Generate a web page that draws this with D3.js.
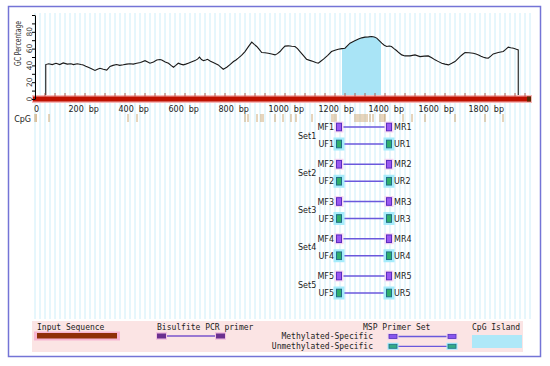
<!DOCTYPE html>
<html>
<head>
<meta charset="utf-8">
<script src="https://cdn.jsdelivr.net/npm/d3@7"></script>
<style>
  body { margin: 0; background: #fff; }
  svg { display: block; }
</style>
</head>
<body>
<div id="chart"></div>
<script>
// =========================
// Data
// =========================
const seqLength = 1984;

// GC percentage along the sequence (bp, %)
const gcPos = [43, 43, 55, 69, 84, 99, 113, 129, 144, 154, 169, 184, 193, 203, 213, 226, 240, 250, 260, 273, 287,
  300, 312, 326, 339, 353, 367, 380, 393, 407, 422, 440, 451, 460, 474, 487, 500, 507, 521, 534, 544, 554, 563,
  573, 583, 593, 603, 613, 625, 640, 650, 658, 666, 674, 683, 690, 702, 713, 723, 733, 743, 753, 760, 767, 780,
  794, 804, 813, 826, 840, 853, 867, 877, 887, 897, 907, 920, 933, 947, 960, 970, 980, 990, 1000, 1013, 1027,
  1040, 1050, 1060, 1073, 1086, 1099, 1113, 1123, 1133, 1143, 1154, 1171, 1186, 1200, 1213, 1227, 1240, 1250,
  1260, 1277, 1294, 1307, 1320, 1334, 1347, 1357, 1367, 1377, 1387, 1397, 1407, 1417, 1426, 1436, 1446, 1456,
  1467, 1480, 1500, 1520, 1540, 1557, 1573, 1587, 1600, 1614, 1627, 1640, 1654, 1667, 1680, 1690, 1700, 1710,
  1720, 1736, 1753, 1764, 1774, 1784, 1794, 1803, 1813, 1823, 1833, 1843, 1853, 1863, 1873, 1883, 1893, 1903,
  1914, 1923, 1933, 1933];
const gcVal = [0, 41, 42, 41, 42.5, 41, 43, 41.5, 42, 41, 42, 41, 40.5, 39, 37.7, 36, 34, 35.5, 36.6, 35.5, 34.5,
  38.8, 40, 41, 40, 40.7, 41.5, 42, 41.5, 42.6, 43.5, 45.6, 44, 42.6, 44, 46.4, 47, 46.4, 44, 42.6, 40, 37.8, 40,
  42.6, 41.5, 40.6, 41.5, 42.6, 44, 45.7, 47.5, 49.8, 47, 45.7, 46.5, 47.2, 45, 43.4, 42, 40.6, 38, 35.4, 36.5,
  37.8, 41, 44.6, 46.5, 48.6, 52, 56.5, 62, 67.7, 65, 62.5, 59, 55.3, 55, 54.5, 53.5, 52.5, 54, 56.5, 60, 63,
  63.3, 62.8, 62.5, 60, 56.5, 52, 47.4, 46, 44.6, 43.5, 42.6, 45, 47.4, 52, 56.5, 58, 59.3, 60, 60.5, 63.5, 66.5,
  69, 71.3, 72.8, 73.7, 74, 74.4, 73.8, 72.5, 69.5, 66.5, 64, 62.5, 63, 62.5, 60, 57.7, 55, 52.5, 51.3, 51.3,
  52.5, 50.5, 51, 51.3, 49, 46.6, 44.5, 42.6, 41.5, 40.6, 42.5, 44.6, 47.5, 50.5, 53, 55.3, 55, 54.5, 53.5, 52.5,
  51, 49.8, 49, 48.6, 51, 53.7, 54.5, 55.3, 56, 56.5, 59, 61.7, 61, 60.5, 59.5, 58.5, 0];

const cpgIsland = [1228, 1384];

const cpgSites = [0, 5, 56, 372, 408, 840, 852, 888, 904, 912, 960, 992, 1024, 1044, 1108, 1188, 1196, 1204,
  1280, 1288, 1296, 1304, 1312, 1320, 1328, 1340, 1352, 1380, 1388, 1396, 1400, 1472, 1508, 1560, 1680, 1800, 1872];

// MSP primer sets (start bp of each primer)
const primerSets = ["Set1", "Set2", "Set3", "Set4", "Set5"];
const mfStart = [1204, 1204, 1204, 1204, 1204];
const mrStart = [1404, 1404, 1404, 1404, 1404];
const ufStart = [1204, 1204, 1204, 1204, 1204];
const urStart = [1404, 1404, 1404, 1404, 1404];
const primerLen = 24;

const xTicks = [0, 200, 400, 600, 800, 1000, 1200, 1400, 1600, 1800];
const yTicks = [0, 20, 40, 60, 80];

// =========================
// Setup
// =========================
const width = 550, height = 366;
const svg = d3.select("#chart").append("svg")
  .attr("width", width)
  .attr("height", height);

const x = d3.scaleLinear().domain([0, seqLength]).range([35, 531]);
const y = d3.scaleLinear().domain([0, 100]).range([99, 15]);
const rowY = d3.scalePoint().domain(primerSets).range([127, 276]);

const sansFont = "DejaVu Sans, Verdana, sans-serif";
const monoFont = "DejaVu Sans Mono, monospace";

// background stripes every 20 bp
svg.append("g")
  .selectAll("line")
  .data(d3.range(0, seqLength + 1, 20))
  .enter()
  .append("line")
  .attr("x1", d => x(d)).attr("x2", d => x(d))
  .attr("y1", 13).attr("y2", 319)
  .attr("stroke", "#cdeef9")
  .attr("stroke-width", 1);

// ---- GC curve ----
const gcData = gcPos.map((p, i) => ({ pos: p, gc: gcVal[i] }));

svg.append("clipPath").attr("id", "island-clip")
  .append("rect")
  .attr("x", x(cpgIsland[0]))
  .attr("width", x(cpgIsland[1]) - x(cpgIsland[0]))
  .attr("y", 0).attr("height", height);

svg.append("path")
  .datum(gcData)
  .attr("clip-path", "url(#island-clip)")
  .attr("fill", "#a9e4f6")
  .attr("d", d3.area().x(d => x(d.pos)).y0(y(0)).y1(d => y(d.gc)));

svg.append("path")
  .datum(gcData)
  .attr("fill", "none")
  .attr("stroke", "#1a1a1a")
  .attr("stroke-width", 1.1)
  .attr("d", d3.line().x(d => x(d.pos)).y(d => y(d.gc)));

// ---- sequence bar ----
svg.append("rect")
  .attr("x", x(0) - 3).attr("y", 95)
  .attr("width", x(seqLength) - x(0) + 4).attr("height", 8)
  .attr("fill", "#f6b8b8");
svg.append("rect")
  .attr("x", x(0) - 2).attr("y", 96.5)
  .attr("width", x(seqLength) - x(0) + 2).attr("height", 5)
  .attr("fill", "#c01000");
svg.append("rect")
  .attr("x", x(seqLength) - 4).attr("y", 96.5)
  .attr("width", 4).attr("height", 5)
  .attr("fill", "#5a2a00");
svg.append("g")
  .selectAll("line")
  .data(d3.range(40, seqLength, 40))
  .enter()
  .append("line")
  .attr("x1", d => x(d)).attr("x2", d => x(d))
  .attr("y1", 93).attr("y2", 96.5)
  .attr("stroke", "#a83a28")
  .attr("stroke-width", 0.8);

// ---- y axis ----
const yAxis = svg.append("g")
  .attr("transform", `translate(${x(0)},0)`)
  .call(d3.axisLeft(y).tickValues(d3.range(0, 101, 10)).tickSize(3).tickSizeOuter(0).tickFormat(""));
yAxis.select(".domain").attr("stroke", "#000");
yAxis.selectAll(".tick line").attr("stroke", "#000");

svg.append("g")
  .selectAll("text")
  .data(yTicks)
  .enter()
  .append("text")
  .attr("transform", d => `translate(31.5,${y(d)}) rotate(-90)`)
  .attr("text-anchor", "middle")
  .attr("font-family", sansFont)
  .attr("font-size", 7.5)
  .attr("fill", "#333")
  .text(d => d);

svg.append("text")
  .attr("transform", "translate(20.5,43.5) rotate(-90)")
  .attr("text-anchor", "middle")
  .attr("font-family", sansFont)
  .attr("font-size", 8.5)
  .attr("textLength", 45)
  .attr("lengthAdjust", "spacingAndGlyphs")
  .attr("fill", "#333")
  .text("GC Percentage");

// ---- x tick labels ----
const xLab = svg.append("g")
  .attr("font-family", sansFont)
  .attr("font-size", 8)
  .attr("fill", "#222");
xLab.selectAll("text")
  .data(xTicks)
  .enter()
  .append("text")
  .attr("x", d => d === 0 ? x(d) - 1 : x(d) - 16.5)
  .attr("y", 112)
  .each(function (d) {
    const t = d3.select(this);
    t.append("tspan").text(d);
    if (d > 0) t.append("tspan").attr("dx", 5).text("bp");
  });

// ---- CpG sites ----
svg.append("text")
  .attr("x", 31).attr("y", 121.5)
  .attr("text-anchor", "end")
  .attr("font-family", sansFont)
  .attr("font-size", 8)
  .attr("fill", "#222")
  .text("CpG");

svg.append("g")
  .selectAll("line")
  .data(cpgSites)
  .enter()
  .append("line")
  .attr("x1", d => x(d)).attr("x2", d => x(d))
  .attr("y1", 114).attr("y2", 122)
  .attr("stroke", "#c9a06a")
  .attr("stroke-width", 0.9);

// ---- MSP primer sets ----
const sets = primerSets.map((name, i) => ({
  name,
  idx: i + 1,
  mf: mfStart[i], mr: mrStart[i], uf: ufStart[i], ur: urStart[i]
}));

const setG = svg.append("g")
  .selectAll("g")
  .data(sets)
  .enter()
  .append("g");

function drawPair(g, kind, fKey, rKey, dy) {
  const isM = kind === "M";
  const cy = d => rowY(d.name) + dy;
  const halo = isM ? "#f5d8f2" : "#a6ecfb";
  const fill = isM ? "#9a58f0" : "#2fae6c";
  const edge = isM ? "#5a2cc0" : "#1f6f86";

  // connecting line
  g.append("line")
    .attr("x1", d => x(d[fKey] + primerLen)).attr("x2", d => x(d[rKey]))
    .attr("y1", cy).attr("y2", cy)
    .attr("stroke", "#6a58dc").attr("stroke-width", 1.5);

  [fKey, rKey].forEach(key => {
    g.append("rect")
      .attr("x", d => x(d[key]) - (isM ? 1.5 : 2.5))
      .attr("y", d => cy(d) - (isM ? 5.5 : 6.5))
      .attr("width", d => x(d[key] + primerLen) - x(d[key]) + (isM ? 3 : 5))
      .attr("height", isM ? 11 : 13)
      .attr("fill", halo);
    g.append("rect")
      .attr("x", d => x(d[key]) + 0.5)
      .attr("y", d => cy(d) - 3.8)
      .attr("width", d => x(d[key] + primerLen) - x(d[key]) - 1)
      .attr("height", 7.6)
      .attr("fill", fill)
      .attr("stroke", edge)
      .attr("stroke-width", 1);
  });

  g.append("text")
    .attr("x", d => x(d[fKey]) - 2)
    .attr("y", d => cy(d) + 3)
    .attr("text-anchor", "end")
    .attr("font-family", sansFont).attr("font-size", 8).attr("fill", "#222")
    .text(d => `${kind}F${d.idx}`);
  g.append("text")
    .attr("x", d => x(d[rKey] + primerLen) + 2)
    .attr("y", d => cy(d) + 3)
    .attr("font-family", sansFont).attr("font-size", 8).attr("fill", "#222")
    .text(d => `${kind}R${d.idx}`);
}

drawPair(setG, "M", "mf", "mr", 0);
drawPair(setG, "U", "uf", "ur", 17);

setG.append("text")
  .attr("x", 298)
  .attr("y", d => rowY(d.name) + 11.5)
  .attr("font-family", sansFont).attr("font-size", 8).attr("fill", "#222")
  .text(d => d.name);

// =========================
// Legend
// =========================
const leg = svg.append("g");
leg.append("rect")
  .attr("x", 32).attr("y", 321).attr("width", 491).attr("height", 31)
  .attr("fill", "#fbe4e4");

const legText = (tx, ty, s, anchor) => leg.append("text")
  .attr("x", tx).attr("y", ty)
  .attr("text-anchor", anchor || "start")
  .attr("font-family", monoFont).attr("font-size", 8).attr("fill", "#222")
  .text(s);

legText(37, 330, "Input Sequence");
legText(157, 330, "Bisulfite PCR primer");
legText(363, 330, "MSP Primer Set");
legText(373, 339, "Methylated-Specific", "end");
legText(373, 348.5, "Unmethylated-Specific", "end");
legText(472, 330, "CpG Island");

// input sequence sample
leg.append("rect").attr("x", 34).attr("y", 331.5).attr("width", 86).attr("height", 9).attr("fill", "#f7b6d2");
leg.append("rect").attr("x", 37).attr("y", 333).attr("width", 80).attr("height", 5.5).attr("fill", "#8f3008");

// bisulfite primer sample
leg.append("line").attr("x1", 166).attr("x2", 216).attr("y1", 336).attr("y2", 336)
  .attr("stroke", "#7a55cc").attr("stroke-width", 1.3);
[157, 216].forEach(bx => {
  leg.append("rect").attr("x", bx - 1).attr("y", 332).attr("width", 11).attr("height", 8).attr("fill", "#f4c4e0");
  leg.append("rect").attr("x", bx).attr("y", 333.5).attr("width", 9).attr("height", 5).attr("fill", "#6b2f8f");
});

// methylated / unmethylated samples
[[336.5, "#8855ee", "#5533bb", "#f3d4f0"], [346.3, "#36aa86", "#1f6f86", "#a6ecfb"]].forEach(([ly, f, e, h]) => {
  leg.append("line").attr("x1", 397).attr("x2", 448).attr("y1", ly).attr("y2", ly)
    .attr("stroke", "#6a58dc").attr("stroke-width", 1.3);
  [389, 448].forEach(bx => {
    leg.append("rect").attr("x", bx - 1.5).attr("y", ly - 3.5).attr("width", 11).attr("height", 7).attr("fill", h);
    leg.append("rect").attr("x", bx).attr("y", ly - 2).attr("width", 8).attr("height", 4)
      .attr("fill", f).attr("stroke", e).attr("stroke-width", 0.8);
  });
});

// CpG island sample
leg.append("rect").attr("x", 472).attr("y", 335).attr("width", 50).attr("height", 13).attr("fill", "#aee8f8");

// outer frame
svg.append("rect")
  .attr("x", 8.5).attr("y", 6.5).attr("width", 532).attr("height", 350)
  .attr("fill", "none")
  .attr("stroke", "#7474d6")
  .attr("stroke-width", 1.5);
</script>
</body>
</html>
